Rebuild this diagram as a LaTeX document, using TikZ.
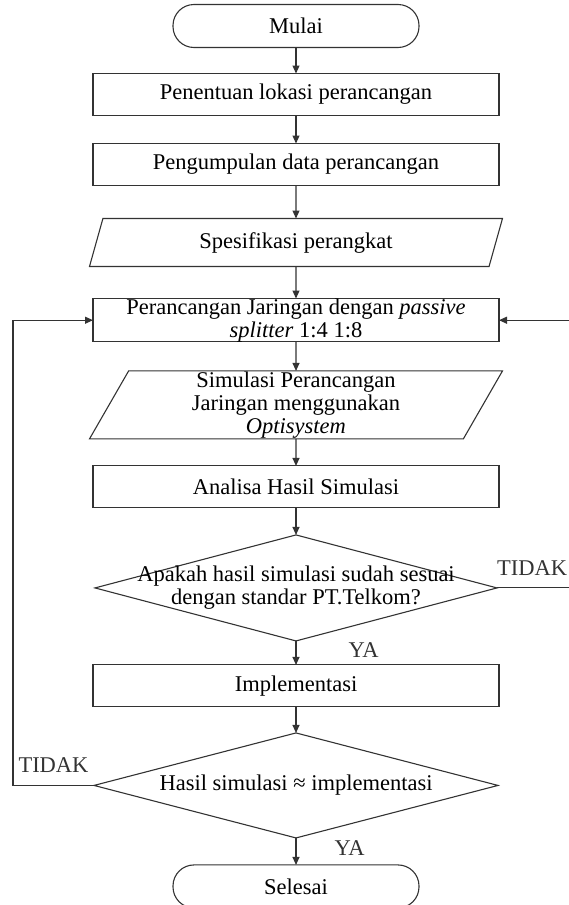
\documentclass[tikz,border=0pt]{standalone}
\usepackage{fontspec}
\setmainfont{Liberation Serif}
\usetikzlibrary{positioning, shapes.geometric, arrows.meta}

\begin{document}
\begin{tikzpicture}[
  x=1pt, y=-1pt,
  font=\fontsize{22.5}{23}\selectfont,
  terminal/.style={draw=black!80, line width=1.1pt, rounded corners=21pt,
                   minimum width=246pt, minimum height=43pt, inner sep=0pt, outer sep=0pt},
  process/.style={draw=black!80, line width=1.1pt, minimum width=406pt,
                  minimum height=42pt, inner sep=0pt, outer sep=0pt, align=center},
  io/.style={trapezium, trapezium left angle=57, trapezium right angle=123,
             trapezium stretches body, draw=black!80, line width=1.1pt,
             minimum width=413pt, minimum height=48pt, inner sep=0pt, outer sep=0pt,
             align=center},
  decision/.style={diamond, draw=black!80, line width=1.1pt, inner sep=0pt, outer sep=0pt,
                   minimum width=402pt, minimum height=106pt},
  arrow/.style={-{Triangle[length=8pt, width=7pt]}, line width=1.1pt, black!80},
  lbl/.style={inner sep=0pt}
]
\useasboundingbox (0,0) rectangle (569,905);

\node[terminal] (start) at (296,26) {Mulai};
\node[process, below=26pt of start] (location) {Penentuan lokasi perancangan};
\node[process, below=28pt of location] (collect) {Pengumpulan data perancangan};
\node[io, below=33pt of collect] (spec) {Spesifikasi perangkat};
\node[process, minimum height=43pt, below=32pt of spec] (design)
  {Perancangan Jaringan dengan \textit{passive}\\\textit{splitter} 1:4 1:8};
\node[io, trapezium left angle=59.5, trapezium right angle=120.5,
      minimum height=68pt, below=29pt of design] (sim)
  {Simulasi Perancangan\\Jaringan menggunakan\\\textit{Optisystem}};
\node[process, below=27pt of sim] (analysis) {Analisa Hasil Simulasi};
\node[decision, below=27pt of analysis] (check) {};
\node[lbl, align=center] (checktext) at (check)
  {Apakah hasil simulasi sudah sesuai\\dengan standar PT.Telkom?};
\node[process, below=24pt of check] (impl) {Implementasi};
\node[decision, minimum width=404pt, minimum height=105pt, below=26pt of impl] (compare) {};
\node[lbl] (comparetext) at (compare) {Hasil simulasi ≈ implementasi};
\node[terminal, below=27pt of compare] (finish) {Selesai};

\coordinate (loopL) at (13,0);
\coordinate (loopR) at (570,0);

\draw[arrow] (start) -- (location);
\draw[arrow] (location) -- (collect);
\draw[arrow] (collect) -- (spec);
\draw[arrow] (spec) -- (design);
\draw[arrow] (design) -- (sim);
\draw[arrow] (sim) -- (analysis);
\draw[arrow] (analysis) -- (check);
\draw[arrow] (check) -- node[lbl, pos=0.375, right=52pt] {YA} (impl);
\draw[arrow] (impl) -- (compare);
\draw[arrow] (compare) -- node[lbl, pos=0.37, right=38pt] {YA} (finish);
\draw[arrow] (check.east) -| node[lbl, pos=0.24, above=12pt] {TIDAK} (loopR |- design.east) -- (design.east);
\draw[arrow] (compare.west) -| node[lbl, pos=0.25, above=12pt] {TIDAK} (loopL |- design.west) -- (design.west);
\end{tikzpicture}
\end{document}
